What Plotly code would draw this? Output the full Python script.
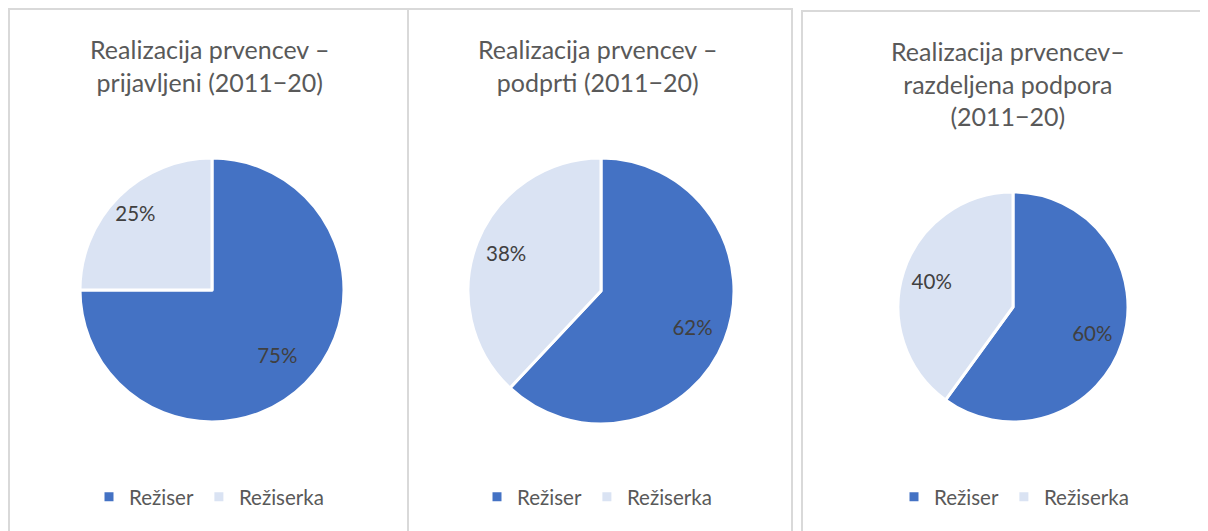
import plotly.graph_objects as go

W, H = 1208, 531

labels = ["Režiser", "Režiserka"]
titles = [
    "Realizacija prvencev –<br>prijavljeni (2011−20)",
    "Realizacija prvencev –<br>podprti (2011−20)",
    "Realizacija prvencev–<br>razdeljena podpora<br>(2011−20)",
]
prijavljeni = [75, 25]
podprti = [62, 38]
razdeljena = [60, 40]
series = [prijavljeni, podprti, razdeljena]

colors = ["#4472C4", "#DAE3F3"]
FONT = "Lato"
OFF = 8  # page body margin

# pie geometry in screen pixels: (cx, cy, r)
geo = [(212, 290, 132), (601, 291, 133), (1013, 307, 115)]
label_scale = [1.40, 1.48, 1.45]  # label ring radius relative to pie (text placed at ~half)
legend_names = ["legend", "legend2", "legend3"]
legend_x = [89, 477, 894]
title_pos = [(210, 32), (598, 32), (1008, 34)]

def px(x):
    return (x - OFF) / W

def py(y):
    return 1 - (y - OFF) / H

def dom(cx, cy, r):
    return dict(x=[px(cx - r), px(cx + r)], y=[py(cy + r), py(cy - r)])

fig = go.Figure()
for i, vals in enumerate(series):
    cx, cy, r = geo[i]
    # zero-width spaces keep legend entries separate per pie
    labs = [lab + "\u200b" * i for lab in labels]
    fig.add_trace(go.Pie(
        labels=labs,
        values=vals,
        sort=False,
        direction="clockwise",
        rotation=0,
        marker=dict(colors=colors, line=dict(color="white", width=3)),
        textinfo="none",
        hoverinfo="label+value",
        domain=dom(cx, cy, r),
        legend=legend_names[i],
        showlegend=True,
    ))
    # transparent ring carrying the data labels a bit further out
    fig.add_trace(go.Pie(
        labels=labs,
        values=vals,
        sort=False,
        direction="clockwise",
        rotation=0,
        marker=dict(colors=["rgba(0,0,0,0)"] * 2, line=dict(width=0)),
        texttemplate="%{value}%",
        textposition="inside",
        insidetextorientation="horizontal",
        textfont=dict(family=FONT, size=20.5, color="#404040"),
        hoverinfo="skip",
        domain=dom(cx, cy, r * label_scale[i]),
        showlegend=False,
    ))

shapes = [
    dict(type="rect", xref="paper", yref="paper", x0=px(9), x1=px(408), y0=-0.1, y1=py(9),
         line=dict(color="#D9D9D9", width=2)),
    dict(type="rect", xref="paper", yref="paper", x0=px(408), x1=px(792), y0=-0.1, y1=py(9),
         line=dict(color="#D9D9D9", width=2)),
    dict(type="rect", xref="paper", yref="paper", x0=px(802), x1=1.1, y0=-0.1, y1=py(11),
         line=dict(color="#D9D9D9", width=2)),
]

annotations = []
for t, (tx, ty) in zip(titles, title_pos):
    annotations.append(dict(
        text=t, x=px(tx), y=py(ty), xref="paper", yref="paper",
        xanchor="center", yanchor="top", showarrow=False,
        font=dict(family=FONT, size=25, color="#595959"),
    ))

leg_common = dict(orientation="h", yanchor="middle", y=py(497), xanchor="left",
                  font=dict(family=FONT, size=20.5, color="#595959"),
                  bgcolor="rgba(0,0,0,0)", itemclick=False, traceorder="normal")

layout_legends = {}
for name, lx in zip(legend_names, legend_x):
    layout_legends[name] = dict(leg_common, x=px(lx))

fig.update_layout(
    width=W, height=H,
    margin=dict(l=0, r=0, t=0, b=0),
    paper_bgcolor="white",
    plot_bgcolor="white",
    shapes=shapes,
    annotations=annotations,
    **layout_legends,
)

fig.write_html("out.html")
